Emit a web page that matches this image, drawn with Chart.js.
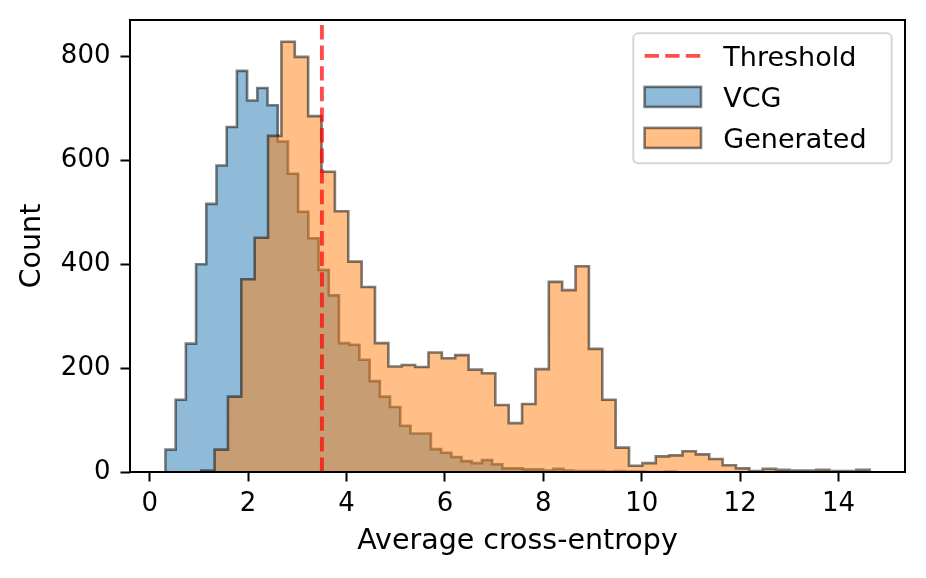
<!DOCTYPE html>
<html>
<head>
<meta charset="utf-8">
<script src="https://cdn.jsdelivr.net/npm/chart.js@4.4.1/dist/chart.umd.min.js"></script>
<style>
  html, body { margin: 0; padding: 0; background: #fff; }
  #wrap { width: 926px; height: 578px; }
</style>
</head>
<body>
<div id="wrap"><canvas id="hist" width="926" height="578"></canvas></div>
<script>
// --- datos ---
const vcgBinStart = 0.32;
const vcgBinWidth = 0.2075;
const vcgCounts = [
    43, 139, 247, 400, 516, 590, 664, 772, 715, 739,
    706, 636, 574, 501, 450, 389, 340, 248, 245, 216,
    175, 145, 125, 89, 74, 74, 44, 37, 29, 21,
    17, 23, 15, 7, 7, 5, 5, 3, 6, 3,
    2, 2, 2, 1, 2, 1, 1, 0, 0, 1
];

const genBinStart = 1.047;
const genBinWidth = 0.2717;
const genCounts = [
    3, 43, 145, 371, 451, 647, 828, 799, 685, 578,
    502, 405, 356, 248, 203, 206, 202, 230, 219, 225,
    197, 190, 129, 94, 131, 198, 366, 350, 396, 237,
    139, 47, 12, 17, 30, 32, 40, 34, 25, 13,
    7, 2, 6, 4, 3, 3, 4, 2, 2, 4
];

const threshold = 3.5;
const seriesLabels = ['Threshold', 'VCG', 'Generated'];
const xTicks = [0, 2, 4, 6, 8, 10, 12, 14];
const yTicks = [0, 200, 400, 600, 800];
const xRange = [-0.40, 15.35];
const yRange = [0, 870];

// --- estilos ---
const FONT = 'DejaVu Sans';
const edgeColor = 'rgba(0, 0, 0, 0.5)';
const vcgFill = 'rgba(31, 119, 180, 0.5)';
const genFill = 'rgba(255, 127, 14, 0.5)';
const thresholdColor = 'rgba(255, 0, 0, 0.7)';
const dashPattern = [14.4, 6.2];

Chart.defaults.font.family = FONT;
Chart.defaults.color = '#000';

/**
 * Convierte un histograma (inicio, ancho, cuentas) en el contorno escalonado.
 */
function stepPoints(start, width, counts) {
    const pts = [{ x: start, y: 0 }];
    counts.forEach((c, i) => {
        pts.push({ x: start + i * width, y: c });
        pts.push({ x: start + (i + 1) * width, y: c });
    });
    pts.push({ x: start + counts.length * width, y: 0 });
    return pts;
}

// Quita el relleno extra que Chart.js reserva para las etiquetas de los extremos
function noEdgePadding(scale) {
    scale.paddingTop = 0;
    scale.paddingBottom = 0;
    scale.paddingLeft = 0;
    scale.paddingRight = 0;
}

// Marco de los cuatro lados del area de datos
const frame = {
    id: 'frame',
    afterDatasetsDraw(chart) {
        const { ctx, chartArea: a } = chart;
        ctx.save();
        ctx.strokeStyle = '#000';
        ctx.lineWidth = 2;
        ctx.strokeRect(a.left, a.top, a.right - a.left, a.bottom - a.top);
        ctx.restore();
    }
};

// Leyenda dentro del grafico, arriba a la derecha
const insideLegend = {
    id: 'insideLegend',
    afterDraw(chart) {
        const { ctx, chartArea: a } = chart;
        const w = 258.4, h = 130, r = 5;
        const x = a.right - 13.3 - w;
        const y = a.top + 13.3;

        ctx.save();
        ctx.beginPath();
        ctx.moveTo(x + r, y);
        ctx.arcTo(x + w, y, x + w, y + h, r);
        ctx.arcTo(x + w, y + h, x, y + h, r);
        ctx.arcTo(x, y + h, x, y, r);
        ctx.arcTo(x, y, x + w, y, r);
        ctx.closePath();
        ctx.fillStyle = 'rgba(255,255,255,0.8)';
        ctx.fill();
        ctx.strokeStyle = 'rgba(204,204,204,0.8)';
        ctx.lineWidth = 2;
        ctx.stroke();

        const ds = chart.data.datasets;
        const handleX = x + 11.3, handleW = 56.4;
        const textX = x + 90;
        const rowStep = 41;
        ctx.font = '27px "' + FONT + '"';
        ctx.textBaseline = 'alphabetic';
        ctx.textAlign = 'left';

        ds.forEach((d, i) => {
            const base = y + 32.4 + i * rowStep;
            const mid = base - 9.8;
            if (i === 0) {
                ctx.beginPath();
                ctx.setLineDash(d.borderDash);
                ctx.strokeStyle = d.borderColor;
                ctx.lineWidth = d.borderWidth;
                ctx.moveTo(handleX, mid);
                ctx.lineTo(handleX + handleW, mid);
                ctx.stroke();
                ctx.setLineDash([]);
            } else {
                ctx.fillStyle = d.backgroundColor;
                ctx.fillRect(handleX, mid - 10, handleW, 20);
                ctx.strokeStyle = d.borderColor;
                ctx.lineWidth = d.borderWidth;
                ctx.strokeRect(handleX, mid - 10, handleW, 20);
            }
            ctx.fillStyle = '#000';
            ctx.fillText(d.label, textX, base);
        });
        ctx.restore();
    }
};

const ctxHist = document.getElementById('hist');

new Chart(ctxHist, {
    type: 'line',
    data: {
        datasets: [
            {
                label: seriesLabels[0],
                data: [{ x: threshold, y: yRange[0] }, { x: threshold, y: yRange[1] }],
                borderColor: thresholdColor,
                borderWidth: 3.9,
                borderDash: dashPattern,
                pointRadius: 0,
                fill: false,
                order: 0
            },
            {
                label: seriesLabels[1],
                data: stepPoints(vcgBinStart, vcgBinWidth, vcgCounts),
                borderColor: edgeColor,
                backgroundColor: vcgFill,
                borderWidth: 2.6,
                borderJoinStyle: 'miter',
                pointRadius: 0,
                tension: 0,
                fill: 'origin',
                order: 2
            },
            {
                label: seriesLabels[2],
                data: stepPoints(genBinStart, genBinWidth, genCounts),
                borderColor: edgeColor,
                backgroundColor: genFill,
                borderWidth: 2.6,
                borderJoinStyle: 'miter',
                pointRadius: 0,
                tension: 0,
                fill: 'origin',
                order: 1
            }
        ]
    },
    options: {
        responsive: false,
        animation: false,
        devicePixelRatio: 1,
        layout: { padding: { left: 0, right: 21, top: 20, bottom: 0 } },
        plugins: {
            legend: { display: false },
            tooltip: { enabled: false }
        },
        scales: {
            x: {
                type: 'linear',
                min: xRange[0],
                max: xRange[1],
                afterBuildTicks: (scale) => { scale.ticks = xTicks.map(v => ({ value: v })); },
                afterFit: (scale) => { scale.height = 106; noEdgePadding(scale); },
                border: { display: false },
                grid: {
                    drawOnChartArea: false,
                    drawTicks: true,
                    tickLength: 9.5,
                    tickWidth: 2,
                    tickColor: '#000'
                },
                ticks: {
                    font: { size: 26 },
                    color: '#000',
                    padding: 7,
                    maxRotation: 0,
                    callback: (v) => String(v)
                },
                title: {
                    display: true,
                    text: 'Average cross-entropy',
                    font: { size: 28.5 },
                    color: '#000',
                    padding: { top: 0, bottom: 19 }
                }
            },
            y: {
                type: 'linear',
                min: yRange[0],
                max: yRange[1],
                afterBuildTicks: (scale) => { scale.ticks = yTicks.map(v => ({ value: v })); },
                afterFit: (scale) => { scale.width = 130; noEdgePadding(scale); },
                border: { display: false },
                grid: {
                    drawOnChartArea: false,
                    drawTicks: true,
                    tickLength: 9.5,
                    tickWidth: 2,
                    tickColor: '#000'
                },
                ticks: {
                    font: { size: 26 },
                    color: '#000',
                    padding: 10,
                    callback: (v) => String(v)
                },
                title: {
                    display: true,
                    text: 'Count',
                    font: { size: 28.5 },
                    color: '#000',
                    padding: { top: 15, bottom: 0 }
                }
            }
        }
    },
    plugins: [frame, insideLegend]
});
</script>
</body>
</html>
